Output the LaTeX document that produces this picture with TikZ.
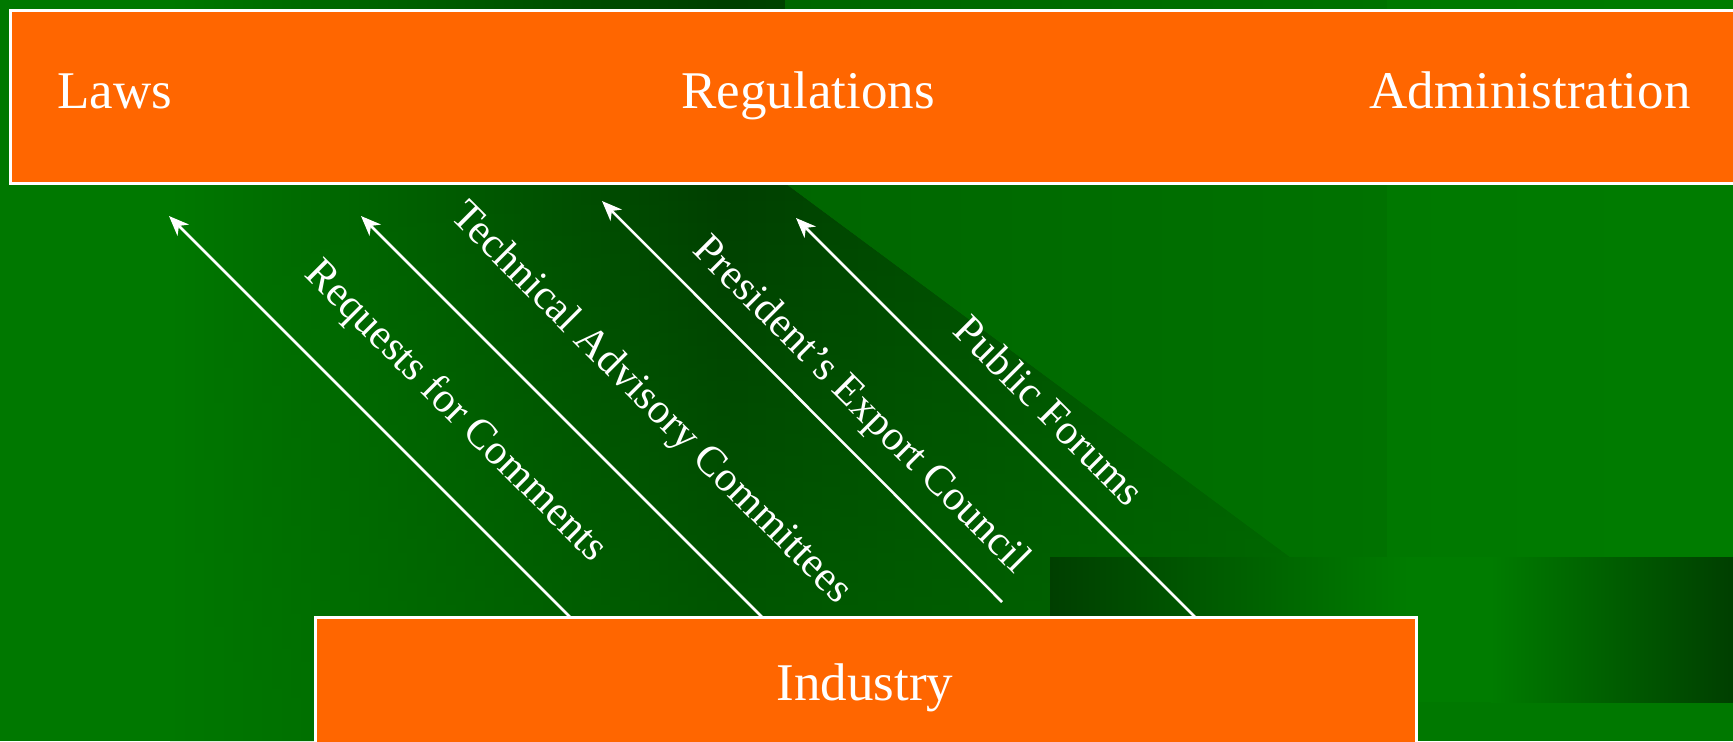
\documentclass[tikz,border=0pt]{standalone}
\usepackage{fontspec}
\setmainfont{Liberation Serif}
\usetikzlibrary{arrows.meta,fadings}
\definecolor{bggreen}{HTML}{007800}
\definecolor{brightgreen}{HTML}{007C00}
\definecolor{darkgreen}{HTML}{003F00}
\definecolor{midgreen}{HTML}{005E00}
\definecolor{rightgreen}{HTML}{006600}
\definecolor{rightgreenb}{HTML}{007200}
\definecolor{boxorange}{HTML}{FF6600}
\tikzset{
  box/.style={draw=white, line width=1.5pt, fill=boxorange, inner sep=0pt},
  maintext/.style={text=white, font=\fontsize{26.5}{30}\selectfont, inner sep=0pt},
  lab/.style={text=white, font=\fontsize{21.2}{24}\selectfont, rotate=-45, inner sep=0pt},
  arr/.style={draw=white, line width=1.25pt, -{Stealth[length=10pt,width=8pt,inset=3pt]}}
}
\begin{document}
\begin{tikzpicture}[x=0.5pt,y=-0.5pt]
\useasboundingbox (0,0) rectangle (1733,741);
\clip (0,0) rectangle (1733,741);
% background
\fill[bggreen] (0,0) rectangle (1733,741);
\begin{scope}
  \clip (0,0) -- (785,0) -- (785,183) -- (1290,557) -- (1050,557) -- (1050,741) -- (0,741) -- cycle;
  \fill[bggreen] (0,0) rectangle (171,741);
  \shade[left color=bggreen, right color=darkgreen] (170,0) rectangle (721,741);
  \shade[left color=darkgreen, right color=midgreen] (720,0) rectangle (1290,741);
  \fill[bggreen, fill opacity=0.5, path fading=north] (0,183) rectangle (1290,741);
\end{scope}
\begin{scope}
  \clip (785,0) -- (1733,0) -- (1733,557) -- (1290,557) -- (785,183) -- cycle;
  \shade[left color=rightgreen, right color=rightgreenb] (785,0) rectangle (1388,557);
  \shade[left color=bggreen, right color=brightgreen] (1387,0) rectangle (1733,557);
\end{scope}
\shade[left color=darkgreen, right color=brightgreen] (1050,557) rectangle (1408,702);
\fill[brightgreen] (1407,557) rectangle (1492,702);
\shade[left color=brightgreen, right color=darkgreen] (1491,557) rectangle (1733,702);
% boxes
\node[box, minimum width=867.5pt, minimum height=86.5pt] (top) at (877.5,96.5) {};
\node[box, minimum width=550.5pt, minimum height=71.5pt] (ind) at (865.5,688.5) {};
% texts
\node[maintext, anchor=base west] (laws) at (57,108) {Laws};
\node[maintext, anchor=base] (regs) at (808,108) {Regulations};
\node[maintext, anchor=base east] (admin) at (1691,108) {Administration};
\node[maintext, anchor=base] (indtxt) at (865,700) {Industry};
% arrows
\coordinate (t1) at (570,617); \coordinate (h1) at (169,216);
\coordinate (t2) at (762,617); \coordinate (h2) at (361,216);
\coordinate (t3) at (1002,602); \coordinate (h3) at (602,201);
\coordinate (t4) at (1195,617); \coordinate (h4) at (796,218);
\draw[arr] (t1) -- (h1);
\draw[arr] (t2) -- (h2);
\draw[arr] (t3) -- (h3);
\draw[arr] (t4) -- (h4);
% labels
\node[lab] (l1) at (455,412) {Requests for Comments};
\node[lab] (l2) at (650,404) {Technical Advisory Committees};
\node[lab] (l3) at (860,406) {President’s Export Council};
\node[lab] (l4) at (1050,410) {Public Forums};
\end{tikzpicture}
\end{document}
